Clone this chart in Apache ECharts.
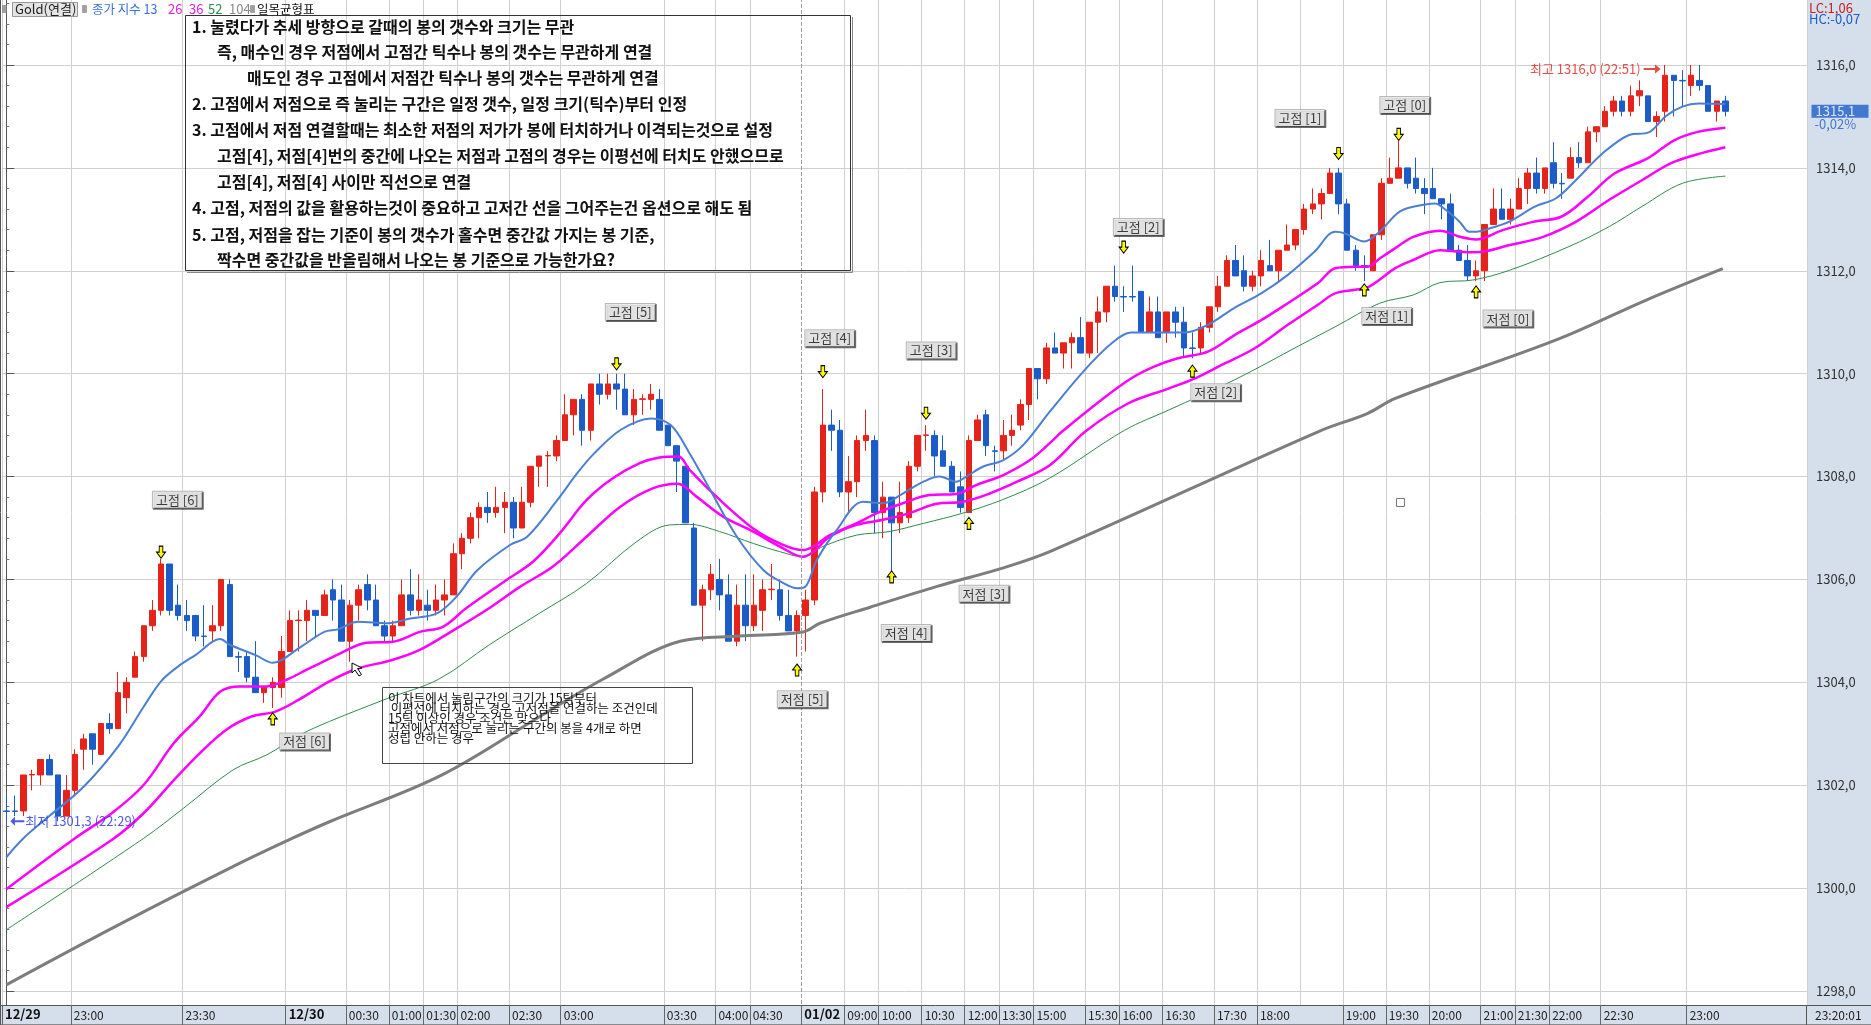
<!DOCTYPE html>
<html><head><meta charset="utf-8">
<script src="https://cdn.jsdelivr.net/npm/echarts@6/dist/echarts.min.js"></script>
<style>html,body{margin:0;padding:0;background:#fff;overflow:hidden}#c{width:1871px;height:1025px}</style>
</head><body><div id="c"></div>
<script>
// ---------- DATA ----------
const opens = [1301.5,1301.5,1301.5,1302.2,1302.2,1302.5,1302.2,1301.4,1301.9,1302.7,
1303.0,1302.6,1303.2,1303.1,1303.7,1304.1,1304.5,1305.1,1305.4,1306.3,
1305.5,1305.3,1305.3,1304.9,1305.0,1305.1,1305.9,1304.5,1304.5,1304.1,
1303.8,1303.9,1303.9,1304.6,1305.2,1305.2,1305.4,1305.3,1305.8,1305.6,
1304.8,1305.5,1305.9,1305.6,1305.1,1304.9,1305.1,1305.7,1305.4,1305.5,
1305.4,1305.6,1305.7,1306.5,1306.8,1307.2,1307.4,1307.3,1307.4,1307.5,
1307.0,1307.5,1308.2,1308.4,1308.4,1308.7,1309.2,1309.5,1308.9,1309.8,
1309.6,1309.8,1309.7,1309.2,1309.5,1309.5,1309.5,1309.0,1308.6,1308.2,
1307.0,1305.5,1305.8,1306.0,1305.7,1304.8,1305.5,1305.1,1305.4,1305.8,
1305.8,1305.3,1305.0,1305.3,1305.6,1307.7,1309.0,1308.9,1307.7,1307.9,
1308.7,1308.7,1307.3,1307.6,1307.1,1307.2,1308.2,1308.8,1308.8,1308.5,
1308.2,1307.8,1307.3,1308.7,1309.2,1308.5,1308.5,1308.8,1309.0,1309.4,
1310.1,1309.9,1310.5,1310.4,1310.6,1310.7,1310.4,1311.0,1311.2,1311.7,
1311.5,1311.5,1311.6,1310.8,1311.2,1310.8,1311.2,1311.0,1310.5,1310.5,
1310.9,1311.3,1311.7,1312.2,1312.0,1311.7,1311.9,1312.1,1312.0,1312.4,
1312.5,1312.8,1313.2,1313.3,1313.5,1313.9,1313.3,1312.4,1312.1,1312.0,
1312.7,1313.7,1313.8,1314.0,1313.8,1313.6,1313.6,1313.4,1313.3,1312.4,
1312.2,1311.9,1312.0,1312.9,1313.2,1313.0,1313.2,1313.6,1313.9,1313.6,
1314.1,1313.7,1313.8,1314.2,1314.1,1314.7,1314.8,1315.1,1315.3,1315.1,
1315.4,1315.4,1314.9,1315.1,1315.8,1315.7,1315.6,1315.7,1315.6,1315.1,
1315.3];
const closes = [1301.49,1301.49,1302.2,1302.21,1302.5,1302.2,1301.4,1301.9,1302.6,1302.9,
1302.7,1303.2,1303.1,1303.8,1304.0,1304.5,1305.1,1305.4,1306.3,1305.4,
1305.3,1305.2,1304.9,1304.89,1305.1,1306.0,1304.5,1304.49,1304.1,1303.8,
1303.9,1304.0,1304.6,1305.2,1305.21,1305.4,1305.3,1305.7,1305.6,1304.8,
1305.5,1305.8,1305.6,1305.1,1304.9,1305.1,1305.7,1305.4,1305.6,1305.4,
1305.6,1305.7,1306.5,1306.8,1307.2,1307.4,1307.3,1307.4,1307.5,1307.0,
1307.5,1308.2,1308.4,1308.41,1308.7,1309.2,1309.5,1308.9,1309.8,1309.6,
1309.8,1309.7,1309.2,1309.5,1309.51,1309.6,1308.9,1308.6,1308.3,1307.1,
1305.5,1305.8,1306.1,1305.7,1304.8,1305.5,1305.1,1305.5,1305.8,1305.81,
1305.3,1305.0,1305.3,1305.6,1307.7,1309.0,1308.9,1307.7,1307.9,1308.7,
1308.8,1307.3,1307.6,1307.1,1307.3,1308.2,1308.8,1308.81,1308.4,1308.2,
1307.7,1307.4,1308.7,1309.1,1308.6,1308.49,1308.8,1308.9,1309.4,1310.1,
1309.9,1310.5,1310.4,1310.6,1310.7,1310.4,1311.0,1311.2,1311.7,1311.5,
1311.49,1311.49,1310.8,1311.2,1310.7,1311.2,1311.0,1310.5,1310.49,1310.9,
1311.3,1311.7,1312.2,1311.9,1311.7,1311.9,1312.2,1312.0,1312.4,1312.5,
1312.8,1313.2,1313.3,1313.5,1313.9,1313.3,1312.4,1312.1,1312.09,1312.7,
1313.7,1313.8,1314.0,1313.7,1313.6,1313.5,1313.4,1313.3,1312.4,1312.2,
1311.9,1312.0,1312.9,1313.2,1313.0,1313.2,1313.6,1313.9,1313.6,1314.0,
1313.7,1313.69,1314.2,1314.1,1314.7,1314.8,1315.1,1315.3,1315.1,1315.4,
1315.5,1314.9,1315.0,1315.8,1315.7,1315.69,1315.8,1315.6,1315.1,1315.3,
1315.1];
const highs = [1301.8,1301.8,1302.2,1302.3,1302.5,1302.6,1302.2,1302.2,1302.7,1303.0,
1303.0,1303.2,1303.4,1304.2,1304.1,1304.6,1305.1,1305.6,1306.4,1306.3,
1305.9,1305.6,1305.3,1305.5,1305.5,1306.0,1306.0,1304.6,1304.6,1304.8,
1303.9,1304.1,1304.9,1305.4,1305.4,1305.6,1305.4,1305.8,1306.0,1305.9,
1305.6,1305.9,1306.1,1305.9,1305.2,1305.2,1306.0,1306.2,1306.1,1305.8,
1305.9,1306.0,1306.7,1306.9,1307.3,1307.5,1307.7,1307.8,1307.7,1307.6,
1307.8,1308.2,1308.4,1308.5,1308.8,1309.6,1309.5,1309.6,1309.8,1310.0,
1310.0,1310.0,1310.0,1309.7,1309.6,1309.8,1309.7,1309.0,1308.6,1308.2,
1307.1,1305.9,1306.3,1306.4,1306.1,1305.9,1306.1,1306.1,1306.0,1306.3,
1306.0,1305.8,1305.4,1305.8,1307.8,1309.7,1309.3,1309.1,1308.4,1308.8,
1309.3,1308.8,1307.9,1307.6,1307.9,1308.3,1308.8,1309.0,1308.9,1308.8,
1308.3,1308.1,1308.8,1309.2,1309.3,1308.6,1309.1,1309.2,1309.5,1310.1,
1310.1,1310.6,1310.8,1310.6,1310.8,1311.1,1311.0,1311.5,1311.7,1312.1,
1311.7,1312.1,1311.6,1311.5,1311.5,1311.2,1311.3,1311.3,1310.8,1311.0,
1311.3,1311.9,1312.3,1312.5,1312.3,1312.0,1312.4,1312.6,1312.4,1312.9,
1312.8,1313.3,1313.6,1313.6,1314.0,1314.0,1313.4,1312.5,1312.3,1312.7,
1313.8,1314.2,1314.7,1314.0,1314.2,1313.8,1314.0,1313.4,1313.5,1312.5,
1312.5,1312.2,1312.9,1313.6,1313.6,1313.4,1313.8,1314.0,1314.2,1314.0,
1314.5,1313.9,1314.4,1314.5,1314.8,1314.8,1315.2,1315.4,1315.4,1315.6,
1315.7,1315.4,1315.1,1316.0,1315.8,1315.9,1316.0,1316.0,1315.6,1315.3,
1315.4];
const lows = [1301.3,1301.4,1301.4,1301.9,1302.0,1302.2,1301.3,1301.4,1301.8,1302.3,
1302.4,1302.6,1303.0,1303.1,1303.4,1304.1,1304.4,1305.0,1305.3,1305.3,
1305.2,1305.0,1304.8,1304.7,1304.8,1305.0,1304.5,1304.2,1304.0,1303.8,
1303.6,1303.5,1303.7,1304.6,1304.6,1304.8,1304.9,1305.3,1305.2,1304.8,
1304.4,1305.2,1305.4,1305.1,1304.8,1304.8,1305.1,1305.3,1305.3,1305.2,
1305.3,1305.3,1305.7,1306.2,1306.7,1306.8,1307.1,1307.2,1306.9,1306.8,
1307.0,1307.4,1307.8,1307.8,1308.3,1308.7,1308.8,1308.6,1308.7,1309.4,
1309.5,1309.3,1309.2,1309.0,1309.2,1309.3,1308.9,1308.6,1307.7,1307.1,
1305.5,1304.8,1305.6,1305.4,1304.8,1304.7,1304.8,1305.0,1305.0,1305.6,
1305.2,1305.0,1304.5,1304.6,1305.5,1307.5,1308.5,1307.6,1307.3,1307.6,
1308.5,1306.9,1306.8,1306.1,1306.9,1307.1,1308.1,1308.5,1308.0,1308.2,
1307.7,1307.3,1307.3,1308.7,1308.4,1308.1,1308.3,1308.6,1308.9,1309.1,
1309.5,1309.8,1310.4,1310.1,1310.1,1310.4,1310.3,1310.4,1311.0,1311.4,
1311.2,1311.4,1310.8,1310.8,1310.7,1310.6,1310.7,1310.3,1310.3,1310.4,
1310.8,1311.2,1311.7,1311.9,1311.6,1311.6,1311.7,1312.0,1311.8,1312.4,
1312.4,1312.7,1313.1,1313.0,1313.5,1313.1,1312.4,1312.0,1311.8,1312.0,
1312.6,1313.7,1313.8,1313.6,1313.5,1313.1,1313.4,1313.0,1312.4,1312.2,
1311.8,1311.8,1311.8,1312.9,1313.0,1312.9,1313.2,1313.3,1313.5,1313.5,
1313.6,1313.4,1313.8,1314.0,1314.1,1314.5,1314.8,1315.0,1315.0,1315.0,
1315.2,1314.9,1314.6,1314.9,1315.0,1315.2,1315.4,1315.5,1315.1,1314.9,
1315.0];

// time labels at bar boundaries (bar index where the new period starts)
const timeLabels = {0:'12/29',8:'23:00',21:'23:30',33:'12/30',40:'00:30',45:'01:00',49:'01:30',53:'02:00',
59:'02:30',65:'03:00',77:'03:30',83:'04:00',87:'04:30',93:'01/02',98:'09:00',102:'10:00',107:'10:30',
112:'12:00',116:'13:30',120:'15:00',126:'15:30',130:'16:00',135:'16:30',141:'17:30',146:'18:00',
156:'19:00',161:'19:30',166:'20:00',172:'21:00',176:'21:30',180:'22:00',186:'22:30',196:'23:00'};
const dateLabels = ['12/29','12/30','01/02'];
const extraGridLines = [151];
const dayBreak = 92.5;
const slotCount = 210;

// y axis ticks
const yMin = 1296, yMax = 1318, yStep = 2;

// moving averages (종가 지수 13 26 36 52 104) read at bar positions [bar, value]
const ema13Pts = [[0,1300.6],[2,1300.97],[5,1301.4],[9,1301.97],[13,1302.75],[16,1303.53],[18,1304.02],[20,1304.31],[22,1304.53],[24.9,1304.84],[26,1304.73],[29,1304.53],[31,1304.38],[34,1304.66],[37,1304.98],[38.6,1305.03],[40.9,1305.18],[44.4,1305.15],[47,1305.24],[50.1,1305.34],[52.4,1305.67],[54.8,1306.18],[58.6,1306.67],[60.6,1306.83],[64.1,1307.54],[66.4,1308.06],[68.4,1308.45],[71.5,1308.91],[75,1309.13],[77.3,1309.0],[79.5,1308.45],[81.9,1307.74],[85,1306.83],[88.1,1306.18],[90.4,1305.93],[92,1305.83],[92.9,1305.85],[94.3,1306.38],[96.6,1306.96],[99.7,1307.51],[102,1307.48],[104.3,1307.67],[106.7,1307.9],[108.6,1308.0],[110.5,1307.9],[111.7,1308.0],[113.6,1308.19],[116,1308.32],[118.3,1308.61],[121.4,1309.26],[125.3,1310.04],[128.6,1310.59],[130.9,1310.8],[132.1,1310.8],[137.1,1310.8],[139.8,1310.95],[142.9,1311.28],[146,1311.56],[149.1,1311.92],[152.2,1312.37],[154.6,1312.76],[155.7,1312.73],[158,1312.57],[159.7,1312.75],[162.1,1313.15],[164.1,1313.26],[166.2,1313.31],[167.5,1313.18],[169.1,1312.95],[170.2,1312.76],[171,1312.76],[172.9,1312.84],[174.8,1312.95],[177.9,1313.25],[180.3,1313.41],[182.6,1313.76],[185.7,1314.28],[188.8,1314.64],[191.1,1314.69],[193.1,1315.01],[195,1315.19],[196.9,1315.25],[200,1315.24]];
const ema26Pts = [[0,1299.98],[8,1300.97],[12.3,1301.46],[16,1302.01],[19.5,1302.82],[22.5,1303.34],[24.9,1303.82],[27.2,1303.92],[30.3,1303.92],[32.6,1304.05],[34.9,1304.24],[37.7,1304.47],[38.8,1304.56],[41.9,1304.77],[45,1304.79],[48.1,1304.98],[50.8,1305.08],[53.5,1305.44],[58.2,1305.99],[61.3,1306.35],[64.4,1306.9],[67.5,1307.54],[70.6,1307.97],[73.7,1308.26],[76,1308.37],[78.2,1308.39],[79.5,1308.13],[83,1307.55],[86.9,1306.99],[90,1306.7],[92.7,1306.57],[93.9,1306.64],[95.8,1306.86],[98.9,1307.09],[101.3,1307.29],[104.3,1307.48],[107.4,1307.64],[110.5,1307.66],[112.9,1307.84],[116,1308.03],[119.1,1308.32],[121.4,1308.65],[122.8,1308.87],[127.4,1309.49],[130.9,1309.91],[133.6,1310.14],[136.3,1310.3],[139.8,1310.43],[142.9,1310.75],[146,1311.04],[149.1,1311.37],[152.6,1311.76],[154.6,1312.05],[156.9,1312.08],[158.4,1312.08],[159.8,1312.24],[161.6,1312.44],[163.7,1312.66],[166.8,1312.78],[169.1,1312.66],[171,1312.61],[174.1,1312.79],[177.6,1312.95],[180.9,1313.05],[184,1313.44],[187.1,1313.89],[191,1314.19],[194.1,1314.54],[196.8,1314.7],[200,1314.78]];
const ema36Pts = [[0,1299.63],[12.3,1300.94],[16,1301.46],[19.5,1302.1],[22.5,1302.62],[25.6,1303.08],[28.6,1303.34],[31.3,1303.43],[34,1303.66],[37.6,1304.02],[40.9,1304.27],[44.8,1304.43],[48.1,1304.63],[52.1,1305.02],[55.9,1305.41],[59.8,1305.86],[63.6,1306.25],[67.5,1306.83],[71.4,1307.41],[75.2,1307.77],[78.1,1307.86],[80.3,1307.61],[83.4,1307.22],[86.9,1306.93],[90,1306.64],[92.7,1306.44],[93.9,1306.54],[95.8,1306.83],[98.9,1307.06],[102,1307.16],[105.1,1307.29],[108.2,1307.47],[111.3,1307.51],[114.4,1307.67],[117.6,1307.9],[121.4,1308.22],[125.5,1308.87],[130.5,1309.42],[135.2,1309.71],[138.3,1309.91],[141.4,1310.17],[145.2,1310.49],[149.1,1310.95],[152.6,1311.34],[154.6,1311.56],[156.9,1311.63],[158.4,1311.68],[159.8,1311.83],[161.6,1312.05],[163.7,1312.21],[166.8,1312.4],[169.1,1312.37],[171,1312.36],[174.9,1312.5],[178.8,1312.66],[182.6,1312.95],[186.5,1313.38],[190.3,1313.76],[194.1,1314.12],[200,1314.4]];
const ema52Pts = [[0,1299.19],[16,1300.97],[20.6,1301.55],[26.4,1302.3],[30.3,1302.59],[34.2,1302.98],[37.6,1303.24],[44.4,1303.69],[50.3,1304.06],[56.2,1304.73],[62,1305.34],[67.5,1305.92],[73.3,1306.73],[77.2,1307.06],[79.5,1307.07],[83,1306.93],[86.9,1306.7],[90,1306.54],[92.7,1306.44],[95,1306.64],[98.9,1306.86],[102.7,1306.93],[106.7,1307.09],[111.3,1307.29],[115.9,1307.55],[121.4,1307.97],[130.1,1308.9],[135.2,1309.29],[142.9,1309.88],[150.6,1310.56],[154.6,1310.91],[159.8,1311.37],[163.7,1311.53],[166.8,1311.77],[170.6,1311.82],[174.9,1312.01],[181.8,1312.47],[186.5,1312.86],[190.3,1313.25],[195,1313.7],[200,1313.84]];
const ema104Pts = [[0,1298.12],[13,1299.28],[27,1300.47],[33.3,1300.97],[37.6,1301.29],[50.7,1302.2],[62.7,1303.4],[69.4,1304.06],[78.4,1304.8],[85.3,1304.9],[92.7,1304.98],[94.7,1305.15],[100.5,1305.46],[108.2,1305.86],[115.9,1306.22],[121.4,1306.54],[152.6,1308.87],[158.4,1309.23],[161.6,1309.52],[180.4,1310.66],[190.8,1311.43],[199.7,1312.04]];

// pivot annotations
const pivotLabels = [[19.9,1307.55,'고점 [6]'],[34.7,1302.85,'저점 [6]'],[72.6,1311.2,'고점 [5]'],[92.6,1303.67,'저점 [5]'],[95.8,1310.69,'고점 [4]'],[104.7,1304.96,'저점 [4]'],[107.6,1310.45,'고점 [3]'],[113.75,1305.72,'저점 [3]'],[131.7,1312.85,'고점 [2]'],[140.7,1309.64,'저점 [2]'],[150.5,1314.97,'고점 [1]'],[160.6,1311.12,'저점 [1]'],[162.7,1315.22,'고점 [0]'],[174.7,1311.07,'저점 [0]']];
const highArrowPts = [[18,1306.53],[71,1310.19],[95,1310.04],[107,1309.23],[130,1312.46],[155,1314.28],[162,1314.65]];
const lowArrowPts = [[31,1303.29],[92,1304.24],[103,1306.05],[112,1307.09],[138,1310.05],[158,1311.63],[171,1311.59]];
const highBar = 193, highTime = '22:51';
const lowBar = 0, lowTime = '22:29';
const noteLines = ['1. 눌렸다가 추세 방향으로 갈때의 봉의 갯수와 크기는 무관',
'즉, 매수인 경우 저점에서 고점간 틱수나 봉의 갯수는 무관하게 연결',
'매도인 경우 고점에서 저점간 틱수나 봉의 갯수는 무관하게 연결',
'2. 고점에서 저점으로 즉 눌리는 구간은 일정 갯수, 일정 크기(틱수)부터 인정',
'3. 고점에서 저점 연결할때는 최소한 저점의 저가가 봉에 터치하거나 이격되는것으로 설정',
'고점[4], 저점[4]번의 중간에 나오는 저점과 고점의 경우는 이평선에 터치도 안했으므로',
'고점[4], 저점[4] 사이만 직선으로 연결',
'4. 고점, 저점의 값을 활용하는것이 중요하고 고저간 선을 그어주는건 옵션으로 해도 됨',
'5. 고점, 저점을 잡는 기준이 봉의 갯수가 홀수면 중간값 가지는 봉 기준,',
'짝수면 중간값을 반올림해서 나오는 봉 기준으로 가능한가요?'];
const noteIndent = [0,1,2,0,0,1,1,0,0,1];
const memoLines = ['이 차트에서 눌림구간의 크기가 15틱부터',' 이평선에 터치하는 경우 고저점을 연결하는 조건인데','15틱 이상인 경우 조건은 맞으나','고점에서 저점으로 눌리는 구간의 봉을 4개로 하면','성립 안하는 경우'];

// ---------- CHART ----------
const FN = "'Liberation Sans Narrow','Noto Sans CJK KR',sans-serif";
const FK = "'Noto Sans CJK KR',sans-serif";
const UP = '#e6231a', DN = '#1b5cc8';
const fmt = v => v.toFixed(1).replace('.', ',');

const cats0 = [], cats1 = [];
for (let i = 0; i < slotCount; i++) cats0.push('b' + i);
for (let i = 0; i <= slotCount; i++) cats1.push(timeLabels[i] !== undefined ? timeLabels[i] : ('s' + i));
const splitSet = new Set(Object.keys(timeLabels).map(Number).concat(extraGridLines));
splitSet.delete(93);

const candleData = opens.map((o, i) => [o, closes[i], lows[i], highs[i]]);
const lastClose = closes[closes.length - 1];

function lineSeries(name, pts, color, width, extra) {
  return Object.assign({
    name, type: 'line', xAxisIndex: 2, yAxisIndex: 0, data: pts, smooth: 0.35,
    showSymbol: false, symbol: 'none', silent: true, z: 3,
    lineStyle: { color, width }
  }, extra || {});
}

const downArrow = 'path://M3,0L7,0L7,6L10,6L5,12L0,6L3,6Z';
const upArrow = 'path://M5,0L10,6L7,6L7,12L3,12L3,6L0,6Z';
const rightArrow = 'path://M0,4L12,4L12,0L18,5L12,10L12,6L0,6Z';
const leftArrow = 'path://M0,5L6,0L6,4L18,4L18,6L6,6L6,10Z';

const graphics = [
  {type:'rect', z:-10, shape:{x:1807,y:0,width:64,height:1025}, style:{fill:'#d5dfeb'}},
  {type:'rect', z:10, shape:{x:0,y:1005,width:1871,height:20}, style:{fill:'#d5dfeb'}},
  {type:'line', z:11, shape:{x1:0,y1:1005.5,x2:1871,y2:1005.5}, style:{stroke:'#555',lineWidth:1}},
  {type:'line', z:11, shape:{x1:0,y1:1024.5,x2:1871,y2:1024.5}, style:{stroke:'#8a8a8a',lineWidth:1}},
  {type:'line', z:11, shape:{x1:1806.5,y1:1005,x2:1806.5,y2:1025}, style:{stroke:'#555',lineWidth:1}},
  {type:'line', z:11, shape:{x1:0.5,y1:0,x2:0.5,y2:1025}, style:{stroke:'#555',lineWidth:1}},
  {type:'text', z:21, x:1815, y:1015, style:{text:'23:20:01', font:'12px '+FN, fill:'#222', verticalAlign:'middle'}},
  {type:'text', z:21, x:1809, y:8, style:{text:'LC:1,06', font:'13px '+FN, fill:'#c81e1e', verticalAlign:'middle'}},
  {type:'text', z:21, x:1809, y:19.5, style:{text:'HC:-0,07', font:'13px '+FN, fill:'#1e5ac8', verticalAlign:'middle'}},
  // legend
  {type:'rect', z:21, shape:{x:2.5,y:5.5,width:4,height:7}, style:{fill:'#a0a0a0',stroke:'#777',lineWidth:0.5}},
  {type:'rect', z:21, shape:{x:12.5,y:2.5,width:65,height:14}, style:{fill:'#e4e4e4',stroke:'#999',lineWidth:1}},
  {type:'text', z:22, x:15, y:9.5, style:{text:'Gold(연결)', font:'13px '+FN, fill:'#222', verticalAlign:'middle'}},
  {type:'rect', z:21, shape:{x:82.5,y:5.5,width:4,height:7}, style:{fill:'#a0a0a0',stroke:'#777',lineWidth:0.5}},
  {type:'text', z:22, x:92, y:9.5, style:{text:'종가 지수 13', font:'12.5px '+FN, fill:'#3a6fd8', verticalAlign:'middle'}},
  {type:'text', z:22, x:168, y:9.5, style:{text:'26', font:'13px '+FN, fill:'#e020e0', verticalAlign:'middle'}},
  {type:'text', z:22, x:189, y:9.5, style:{text:'36', font:'13px '+FN, fill:'#e020e0', verticalAlign:'middle'}},
  {type:'text', z:22, x:208, y:9.5, style:{text:'52', font:'13px '+FN, fill:'#2e8b4a', verticalAlign:'middle'}},
  {type:'text', z:22, x:229, y:9.5, style:{text:'104', font:'13px '+FN, fill:'#8a8a8a', verticalAlign:'middle'}},
  {type:'rect', z:21, shape:{x:250.5,y:5.5,width:4,height:7}, style:{fill:'#a0a0a0',stroke:'#777',lineWidth:0.5}},
  {type:'text', z:22, x:257, y:9.5, style:{text:'일목균형표', font:'12.5px '+FK, fill:'#111', verticalAlign:'middle'}},
  // big note box
  {type:'rect', z:20, shape:{x:185.5,y:15.5,width:665,height:255}, style:{fill:'none',stroke:'#333',lineWidth:1}},
  {type:'polyline', z:20, shape:{points:[[852.5,17],[852.5,272.5],[187,272.5]]}, style:{fill:'none',stroke:'#888',lineWidth:1}},
  // memo box
  {type:'rect', z:20, shape:{x:382.5,y:687.5,width:310,height:76}, style:{fill:'none',stroke:'#444',lineWidth:1}},
  // cursor + small square
  {type:'polygon', z:22, shape:{points:[[352,663],[352,673],[355,670],[359,676],[361.5,674.5],[357.5,668.5],[362,668]]}, style:{fill:'#fff',stroke:'#000',lineWidth:1}},
  {type:'rect', z:22, shape:{x:1396.5,y:498.5,width:8,height:8}, style:{fill:'#fff',stroke:'#777',lineWidth:1}}
];
const noteX = [192, 217, 247];
const noteY = [26.7, 51.7, 78.3, 104, 130, 155.7, 181.7, 208.3, 235, 260];
noteLines.forEach((t, i) => graphics.push({type:'text', z:21, x:noteX[noteIndent[i]], y:noteY[i],
  style:{text:t, font:'bold 16px '+FK, fill:'#111', verticalAlign:'middle'}}));
memoLines.forEach((t, i) => graphics.push({type:'text', z:21, x:388, y:698 + i * 10,
  style:{text:t, font:'12.5px '+FK, fill:'#111', verticalAlign:'middle'}}));

const option = {
  animation: false,
  backgroundColor: '#fff',
  grid: [
    {left: 2, right: 64, top: -37.9, bottom: -68.9, containLabel: false, outerBoundsMode: 'none'},
    {left: 2, right: 64, top: 1005, bottom: 0, containLabel: false, outerBoundsMode: 'none'}
  ],
  xAxis: [
    {type:'category', gridIndex:0, data:cats0, boundaryGap:true,
     axisLine:{show:false}, axisTick:{show:false}, axisLabel:{show:false},
     splitLine:{show:true, interval:(i)=>splitSet.has(i), lineStyle:{color:'#d0d0d0', width:1}}},
    {type:'category', gridIndex:1, data:cats1, boundaryGap:false, z:20,
     axisLine:{show:false},
     axisTick:{show:true, inside:true, length:20, interval:(i)=>timeLabels[i]!==undefined, lineStyle:{color:'#666'}},
     axisLabel:{show:true, inside:true, margin:4, align:'left', padding:[0,0,0,3],
       interval:(i)=>timeLabels[i]!==undefined, fontSize:12, fontFamily:FN, color:'#222',
       formatter:(v)=>dateLabels.includes(v) ? '{b|'+v+'}' : v,
       rich:{b:{fontWeight:'bold', fontSize:13, fontFamily:FN, color:'#111'}}},
     splitLine:{show:false}},
    {type:'value', gridIndex:0, min:-0.5, max:slotCount-0.5, show:false}
  ],
  yAxis: [
    {type:'value', gridIndex:0, position:'right', min:yMin, max:yMax, interval:yStep,
     axisLine:{show:true, lineStyle:{color:'#555'}},
     axisTick:{show:true, length:8, lineStyle:{color:'#555'}},
     minorTick:{show:true, splitNumber:5, length:3, lineStyle:{color:'#777'}},
     axisLabel:{margin:9, fontSize:13, fontFamily:FN, color:'#333', formatter:(v)=>fmt(v)},
     splitLine:{show:true, lineStyle:{color:'#d0d0d0', width:1}},
     minorSplitLine:{show:false}},
    {type:'value', gridIndex:1, show:false}
  ],
  graphic: graphics,
  series: [
    {name:'Gold', type:'candlestick', xAxisIndex:0, yAxisIndex:0, data:candleData, barWidth:6, z:2, silent:true,
     itemStyle:{color:UP, color0:DN, borderColor:UP, borderColor0:DN, borderWidth:1}},
    lineSeries('EMA104', ema104Pts, '#7d7d7d', 3),
    lineSeries('EMA52', ema52Pts, '#2f8a4c', 1),
    lineSeries('EMA36', ema36Pts, '#ff00ff', 2.5),
    lineSeries('EMA26', ema26Pts, '#ff00ff', 2.5),
    lineSeries('EMA13', ema13Pts, '#4a7fd4', 2, {
      markLine:{silent:true, symbol:'none', label:{show:false},
        lineStyle:{type:'dashed', color:'#9a9a9a', width:1}, data:[{xAxis:dayBreak}]}}),
    {name:'highs', type:'scatter', xAxisIndex:2, yAxisIndex:0, data:highArrowPts, symbol:downArrow,
     symbolSize:[9,12], z:6, silent:true, itemStyle:{color:'#ffff00', borderColor:'#000', borderWidth:1, opacity:1}},
    {name:'lows', type:'scatter', xAxisIndex:2, yAxisIndex:0, data:lowArrowPts, symbol:upArrow,
     symbolSize:[9,12], z:6, silent:true, itemStyle:{color:'#ffff00', borderColor:'#000', borderWidth:1, opacity:1}},
    {name:'pivots', type:'scatter', xAxisIndex:2, yAxisIndex:0, data:pivotLabels, symbol:'rect', symbolSize:1,
     z:7, silent:true, itemStyle:{color:'rgba(0,0,0,0)'},
     label:{show:true, position:'inside', formatter:(p)=>p.data[2], color:'#111', fontSize:13, fontFamily:FK,
       backgroundColor:'#fff', borderColor:'#a8a8a8', borderWidth:1, padding:[2,3,1,3],
       shadowColor:'rgba(40,40,40,0.85)', shadowOffsetX:1, shadowOffsetY:1, shadowBlur:0}},
    {name:'maxNote', type:'scatter', xAxisIndex:2, yAxisIndex:0, data:[[highBar, highs[highBar]]],
     symbol:rightArrow, symbolSize:[17,9], symbolOffset:[-13,4], z:7, silent:true, clip:false,
     itemStyle:{color:'#e0201a'},
     label:{show:true, position:'left', distance:3, color:'#e0201a', fontSize:13, fontFamily:FN,
       formatter:()=> '최고 ' + fmt(highs[highBar]) + ' (' + highTime + ')'}},
    {name:'minNote', type:'scatter', xAxisIndex:2, yAxisIndex:0, data:[[lowBar, lows[lowBar]]],
     symbol:leftArrow, symbolSize:[14,9], symbolOffset:[11,0], z:7, silent:true, clip:false,
     itemStyle:{color:'#2233d8'},
     label:{show:true, position:'right', distance:1, color:'#2233d8', fontSize:13, fontFamily:FN,
       formatter:()=> '최저 ' + fmt(lows[lowBar]) + ' (' + lowTime + ')'}},
    {name:'price', type:'scatter', xAxisIndex:2, yAxisIndex:0, data:[[slotCount-0.5, lastClose]],
     symbol:'rect', symbolSize:1, z:8, silent:true, clip:false, itemStyle:{color:'rgba(0,0,0,0)'},
     label:{show:true, position:'right', distance:4,
       formatter:()=> '{e| }\n{a|' + fmt(lastClose) + '}\n{b|' + '-0,02%' + '}',
       rich:{
         e:{height:12, lineHeight:12, fontSize:10},
         a:{backgroundColor:'#1d5ec9', color:'#fff', width:49, height:13, lineHeight:13, padding:[0,4,0,4], fontSize:13, fontFamily:FN},
         b:{color:'#1d5ec9', height:12, lineHeight:12, fontSize:13, fontFamily:FN, padding:[0,0,0,3]}
       }}}
  ]
};
const chart = echarts.init(document.getElementById('c'), null, {renderer:'canvas', width:1871, height:1025});
chart.setOption(option);
</script>
</body></html>
